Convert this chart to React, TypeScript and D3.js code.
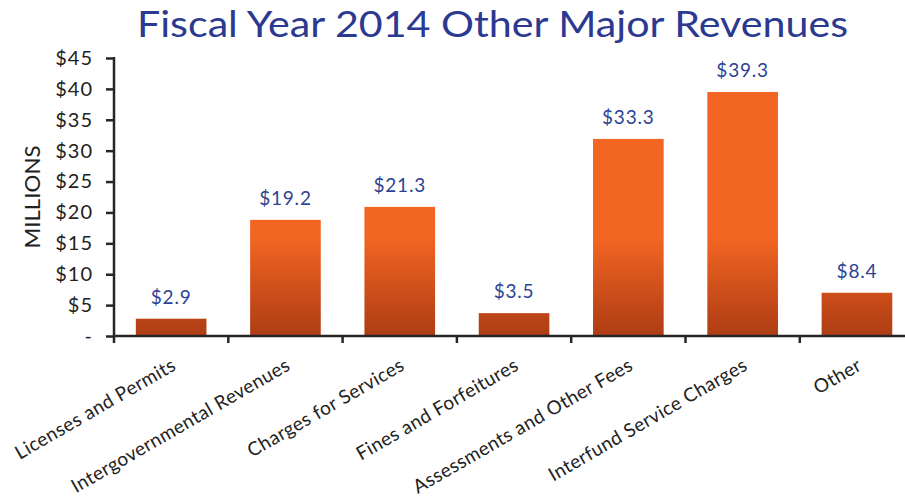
import React, { useEffect, useRef } from "react";
import * as d3 from "d3";

// categories and values
const categories = [
  "Licenses and Permits",
  "Intergovernmental Revenues",
  "Charges for Services",
  "Fines and Forfeitures",
  "Assessments and Other Fees",
  "Interfund Service Charges",
  "Other",
];
// bar heights as drawn (millions)
const barValues = [2.8, 18.8, 20.9, 3.7, 31.9, 39.5, 7.0];
// values printed above the bars
const labelValues = [2.9, 19.2, 21.3, 3.5, 33.3, 39.3, 8.4];
const yTicks = [0, 5, 10, 15, 20, 25, 30, 35, 40, 45];

const FONT = "Lato, 'Open Sans', sans-serif";

export default function App() {
  const ref = useRef<SVGSVGElement>(null);

  useEffect(() => {
    const svg = d3.select(ref.current);
    svg.selectAll("*").remove();

    const width = 905;
    const height = 502;
    const left = 114;
    const bottom = 336;
    const top = 58;

    const x = d3
      .scaleBand()
      .domain(categories)
      .range([left, left + 7 * 114.3])
      .paddingInner(0.382)
      .paddingOuter(0.191);
    const step = x.step();

    const y = d3.scaleLinear().domain([0, 45]).range([bottom, top]);

    const defs = svg.append("defs");
    const grad = defs
      .append("linearGradient")
      .attr("id", "barGrad")
      .attr("gradientUnits", "userSpaceOnUse")
      .attr("x1", 0)
      .attr("x2", 0)
      .attr("y1", 238)
      .attr("y2", bottom);
    grad.append("stop").attr("offset", 0).attr("stop-color", "#f26522");
    grad.append("stop").attr("offset", 1).attr("stop-color", "#ae3c14");

    // title
    svg
      .append("text")
      .attr("x", 492.5)
      .attr("y", 37)
      .attr("text-anchor", "middle")
      .attr("textLength", 711)
      .attr("lengthAdjust", "spacingAndGlyphs")
      .style("font-family", FONT)
      .style("font-size", "37px")
      .style("fill", "#2b3990")
      .text("Fiscal Year 2014 Other Major Revenues");

    // bars
    svg
      .selectAll(".bar")
      .data(categories)
      .enter()
      .append("rect")
      .attr("class", "bar")
      .attr("x", (d) => x(d)!)
      .attr("width", x.bandwidth())
      .attr("y", (d, i) => y(barValues[i]))
      .attr("height", (d, i) => bottom - y(barValues[i]))
      .style("fill", "url(#barGrad)");

    // value labels
    svg
      .selectAll(".val")
      .data(categories)
      .enter()
      .append("text")
      .attr("class", "val")
      .attr("x", (d) => x(d)! + x.bandwidth() / 2)
      .attr("y", (d, i) => y(barValues[i]) - 15)
      .attr("text-anchor", "middle")
      .style("font-family", FONT)
      .style("font-size", "19px")
      .style("letter-spacing", "0.8px")
      .style("fill", "#2d4394")
      .text((d, i) => "$" + labelValues[i].toFixed(1));

    // y axis
    const yAxis = svg
      .append("g")
      .attr("transform", `translate(${left},0)`)
      .call(
        d3
          .axisLeft(y)
          .tickValues(yTicks)
          .tickSize(8)
          .tickSizeOuter(0)
          .tickPadding(13)
          .tickFormat((d) => (d === 0 ? "-" : "$" + d))
      );
    yAxis.select(".domain").remove();
    yAxis.selectAll("line").attr("stroke", "#262626").attr("stroke-width", 2.5);
    yAxis
      .selectAll("text")
      .style("font-family", FONT)
      .style("font-size", "20px")
      .style("letter-spacing", "1px")
      .style("fill", "#222");

    svg
      .append("line")
      .attr("x1", left)
      .attr("x2", left)
      .attr("y1", top - 1)
      .attr("y2", bottom + 7)
      .attr("stroke", "#262626")
      .attr("stroke-width", 2.5);

    // x axis
    svg
      .append("line")
      .attr("x1", left)
      .attr("x2", width)
      .attr("y1", bottom)
      .attr("y2", bottom)
      .attr("stroke", "#262626")
      .attr("stroke-width", 2.5);

    svg
      .selectAll(".xtick")
      .data(categories)
      .enter()
      .append("line")
      .attr("class", "xtick")
      .attr("x1", (d) => x(d)! - x.bandwidth() * 0.309 + step)
      .attr("x2", (d) => x(d)! - x.bandwidth() * 0.309 + step)
      .attr("y1", bottom)
      .attr("y2", bottom + 7)
      .attr("stroke", "#262626")
      .attr("stroke-width", 2.5);

    // category labels
    svg
      .selectAll(".cat")
      .data(categories)
      .enter()
      .append("text")
      .attr("class", "cat")
      .attr("text-anchor", "end")
      .attr(
        "transform",
        (d) => `translate(${x(d)! + x.bandwidth() / 2 + 6},369) rotate(-30)`
      )
      .style("font-family", FONT)
      .style("font-size", "19px")
      .style("letter-spacing", "0.4px")
      .style("fill", "#222")
      .text((d) => d);

    // y label
    svg
      .append("text")
      .attr("transform", "translate(40,197) rotate(-90)")
      .attr("text-anchor", "middle")
      .attr("textLength", 103)
      .attr("lengthAdjust", "spacingAndGlyphs")
      .style("font-family", FONT)
      .style("font-size", "21px")
      .style("fill", "#222")
      .text("MILLIONS");

    svg.attr("width", width).attr("height", height);
  }, []);

  return (
    <div style={{ position: "absolute", left: 0, top: 0 }}>
      <svg ref={ref} width={905} height={502} style={{ display: "block", background: "#fff" }} />
    </div>
  );
}
